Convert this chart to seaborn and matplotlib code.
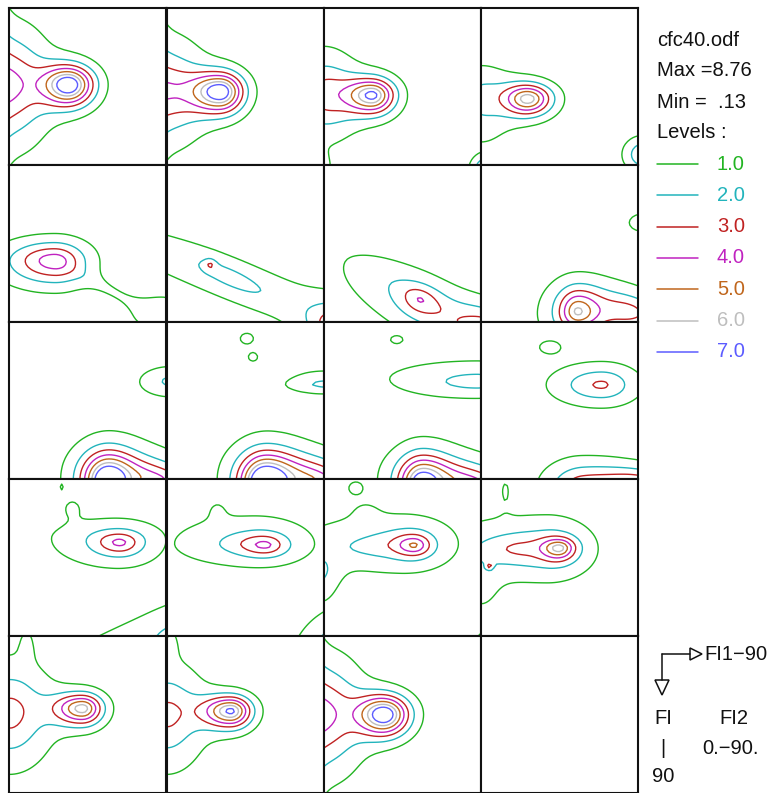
import numpy as np
import matplotlib
matplotlib.use("Agg")
import matplotlib.pyplot as plt
from matplotlib.patches import Polygon
import seaborn as sns

sns.set_theme(style="white")
plt.rcParams["font.family"] = ["Liberation Sans Narrow", "Liberation Sans", "DejaVu Sans"]

# ---------------------------------------------------------------- data
file_name = "cfc40.odf"
max_value = 8.76
min_value = 0.13
levels = [1.0, 2.0, 3.0, 4.0, 5.0, 6.0, 7.0]
level_labels = ["1.0", "2.0", "3.0", "4.0", "5.0", "6.0", "7.0"]
level_colors = ["#22b422", "#22b4bc", "#c02222", "#c022c0", "#c0661c", "#bebebe", "#5c5cff"]
phi2_sections = [0, 5, 10, 15, 20, 25, 30, 35, 40, 45, 50, 55, 60, 65, 70, 75, 80, 85, 90]
background = 0.25

# Texture components of each constant-phi2 section:
# (phi1, Phi, height, width_left, width_right, width_up, width_down, tilt_deg)
sec_00 = [(34, 44, 8.2, 14, 13, 10, 11, 0), (0, 44, 4.0, 40, 20, 28, 30, 0), (-6, 45, 0.8, 6, 6, 90, 90, 0)]
sec_05 = [(31, 48, 8.0, 16, 12, 10, 11, 0), (0, 47, 3.3, 40, 20, 26, 28, 0), (-6, 45, 0.7, 6, 6, 90, 90, 0)]
sec_10 = [(28, 50, 7.0, 15, 12, 9, 10, 0), (0, 49, 3.0, 40, 18, 22, 24, 0), (94, 93, 4.0, 8, 8, 8, 8, 0),
          (-4, 94, 4.0, 5, 5, 8, 8, 0)]
sec_15 = [(27, 52, 6.3, 13, 13, 8, 9, 0), (0, 51, 2.0, 40, 18, 18, 26, 0), (93, 84, 3.0, 10, 10, 9, 9, 0)]
sec_20 = [(26, 55, 4.4, 27, 18, 11, 13, 0), (58, 72, 0.75, 25, 25, 5, 5, 28), (88, 86, 1.6, 18, 10, 12, 10, 0)]
sec_25 = [(25, 57, 1.2, 3, 3, 3, 3, 0), (36, 64, 1.1, 22, 22, 6, 6, 25), (41, 67, 1.3, 150, 150, 16, 16, 21),
          (96, 92, 2.8, 14, 14, 12, 12, 0)]
sec_30 = [(55, 77, 1.6, 10, 10, 7, 8, 20), (60, 80, 2.3, 50, 50, 15, 18, 27), (92, 92, 2.0, 18, 18, 12, 12, 0)]
sec_35 = [(55, 84, 4.3, 10, 12, 12, 10, 0), (85, 84, 2.5, 20, 20, 10, 10, 10), (58, 86, 1.5, 28, 35, 22, 20, 0),
          (93, 33, 2.0, 8, 8, 5, 5, 0)]
sec_40 = [(56, 92, 8.0, 12, 13, 14, 14, 0), (85, 90, 3.0, 25, 25, 10, 10, 10), (60, 92, 1.5, 28, 40, 26, 20, 0),
          (93, 34, 2.0, 18, 18, 8.5, 8.5, 0)]
sec_45 = [(56, 93, 8.5, 12, 14, 14, 14, 0), (85, 90, 3.5, 25, 25, 11, 11, 8), (60, 92, 1.5, 28, 40, 26, 20, 0),
          (90, 34, 1.2, 25, 25, 9, 9, 0), (93, 36, 1.0, 18, 18, 3, 3, 0), (46, 9.5, 1.4, 5, 5, 4, 4, 0),
          (49.5, 20, 1.4, 3.3, 3.3, 3, 3, 0)]
sec_50 = [(56, 94, 6.8, 11, 13, 14, 14, 0), (85, 92, 3.2, 25, 25, 10, 10, 8), (60, 92, 1.5, 28, 40, 22, 20, 0),
          (88, 32, 1.5, 60, 25, 12, 13, 0), (88, 35, 0.9, 25, 15, 5, 5, 0), (41.8, 10, 1.4, 4.3, 4.3, 2.7, 2.7, 0)]
sec_55 = [(69, 36, 2.95, 26, 20, 11, 11, 0), (58, 95, 3.4, 20, 30, 14, 14, 0), (90, 92, 2.6, 20, 20, 8, 8, 0),
          (39.5, 14.3, 1.4, 7.4, 7.4, 4.4, 4.4, 0)]
sec_60 = [(63.5, 36.5, 2.6, 14, 12, 6, 7, 0), (60, 34, 1.6, 42, 32, 13, 18, 0), (36, 16, 0.8, 6, 6, 6, 6, 0),
          (99.4, 86.5, 1.5, 120, 120, 19.5, 19.5, -20.6), (96, 96, 1.5, 10, 10, 10, 10, 0),
          (30, 4.5, 1.4, 0.8, 0.8, 2, 2, 0)]
sec_65 = [(57, 38, 2.2, 13, 11, 6, 6, 0), (50, 37, 1.8, 48, 36, 17, 14, 0), (45, 37, 0.4, 22, 20, 6, 6, 0),
          (29, 17, 0.5, 6, 6, 6, 6, 0), (97, 97, 2.7, 25, 25, 18, 18, -43)]
sec_70 = [(52, 38, 3.2, 11, 9, 6, 6, 0), (45, 37, 2.0, 55, 32, 17, 17, 0), (28, 39, 0.6, 18, 10, 5, 5, 0),
          (24, 18, 0.5, 8, 8, 6, 6, 0), (-2, 54, 1.6, 10, 10, 12, 18, 0), (18.4, 5, 1.4, 4.6, 4.6, 4, 4, 0),
          (97, 97, 1.8, 12, 12, 12, 12, 0)]
sec_75 = [(45, 39.5, 4.2, 9, 8, 5, 6, 0), (38, 40, 2.6, 55, 25, 17, 17, 0), (20, 40, 0.8, 18, 12, 6, 6, 0),
          (0, 62, 1.0, 10, 10, 15, 15, 0), (14, 6, 0.8, 4, 4, 10, 10, 0), (5, 50, 2.0, 1.5, 1.5, 1.5, 1.5, 0)]
sec_80 = [(42, 41.5, 6.3, 15, 11, 8, 9, 0), (0, 44, 3.2, 40, 22, 26, 28, 0), (10, 5, 0.9, 4, 4, 10, 10, 0)]
sec_85 = [(37, 43, 7.0, 15, 11, 8, 9, 0), (0, 45, 3.0, 40, 20, 26, 28, 0), (3, 4, 0.8, 4, 4, 10, 10, 0)]
sec_90 = [(34.6, 45, 8.2, 14, 13, 10, 11, 0), (0, 45, 4.0, 40, 20, 28, 30, 0), (-6, 45, 0.8, 6, 6, 90, 90, 0)]

sections = [sec_00, sec_05, sec_10, sec_15, sec_20, sec_25, sec_30, sec_35, sec_40, sec_45,
            sec_50, sec_55, sec_60, sec_65, sec_70, sec_75, sec_80, sec_85, sec_90]

# ---------------------------------------------------------------- field
phi1 = np.linspace(0, 90, 61)
Phi = np.linspace(0, 90, 61)
X, Y = np.meshgrid(phi1, Phi)


def section_density(components):
    f = np.full_like(X, background)
    for cx, cy, h, wl, wr, wu, wd, tilt in components:
        t = np.deg2rad(tilt)
        dx, dy = X - cx, Y - cy
        u = dx * np.cos(t) + dy * np.sin(t)
        v = -dx * np.sin(t) + dy * np.cos(t)
        su = np.where(u < 0, wl, wr)
        sv = np.where(v < 0, wu, wd)
        d = np.sqrt((u / su) ** 2 + (v / sv) ** 2)
        f += h * np.exp(-d ** 1.6)
    return f


# ---------------------------------------------------------------- layout
W, H = 784, 793
fig = plt.figure(figsize=(W / 100, H / 100), dpi=100)
fig.patch.set_facecolor("white")

x0, y0, cw, ch = 9.3, 8.0, 157.2, 157.0
ncols, nrows = 4, 5


def panel_axes(r, c):
    left = x0 + c * cw
    top = y0 + r * ch
    ax = fig.add_axes([left / W, 1 - (top + ch) / H, cw / W, ch / H])
    ax.set_xlim(0, 90)
    ax.set_ylim(90, 0)
    ax.set_xticks([])
    ax.set_yticks([])
    ax.set_facecolor("white")
    for s in ax.spines.values():
        s.set_color("#111111")
        s.set_linewidth(1.5)
    return ax


for k in range(nrows * ncols):
    r, c = divmod(k, ncols)
    ax = panel_axes(r, c)
    if k < len(sections):
        Z = section_density(sections[k])
        ax.contour(X, Y, Z, levels=levels, colors=level_colors, linewidths=1.0)

# ---------------------------------------------------------------- legend / annotations
ov = fig.add_axes([0, 0, 1, 1])
ov.set_xlim(0, W)
ov.set_ylim(H, 0)
ov.axis("off")
ov.patch.set_alpha(0)

fs = 14.5
tx = 657
header = [file_name, f"Max ={max_value:.2f}", "Min =  " + f"{min_value:.2f}"[1:], "Levels :"]
for y, s in zip([40, 71, 102, 133], header):
    ov.text(tx, y, s, fontsize=fs, color="#111111", va="center", ha="left")

for i, (lab, col) in enumerate(zip(level_labels, level_colors)):
    y = 164 + i * 31.3
    ov.plot([657, 698], [y, y], color=col, lw=1.1)
    ov.text(717, y, lab, fontsize=fs, color=col, va="center", ha="left")

# axis orientation sketch
k = "#111111"
ov.plot([662, 662], [654, 680], color=k, lw=1.1)
ov.plot([662, 690], [654, 654], color=k, lw=1.1)
ov.add_patch(Polygon([[690, 648], [690, 660], [702, 654]], closed=True, fill=False, edgecolor=k, lw=1.1))
ov.add_patch(Polygon([[655, 680], [669, 680], [662, 695]], closed=True, fill=False, edgecolor=k, lw=1.1))
ov.text(704, 654, "FI1\u221290", fontsize=fs, color=k, va="center", ha="left")
ov.text(663, 719, "FI", fontsize=fs, color=k, va="center", ha="center")
ov.text(663, 748, "|", fontsize=fs, color=k, va="center", ha="center")
ov.text(663, 777, "90", fontsize=fs, color=k, va="center", ha="center")
ov.text(734, 719, "FI2", fontsize=fs, color=k, va="center", ha="center")
ov.text(731, 748, "0.\u221290.", fontsize=fs, color=k, va="center", ha="center")

fig.savefig("out.png", dpi=100, facecolor="white")
